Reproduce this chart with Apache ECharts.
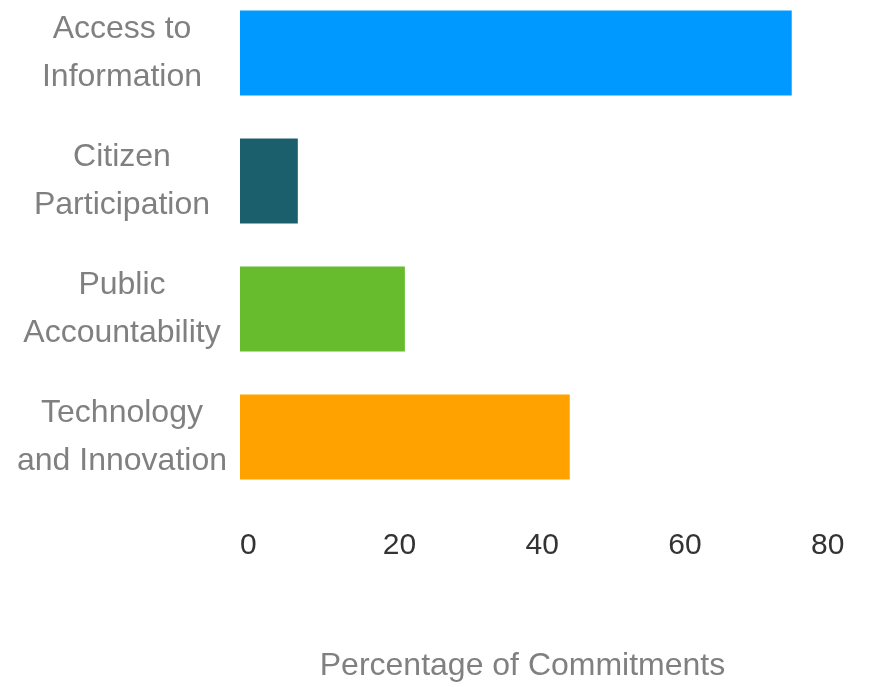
<!DOCTYPE html>
<html>
<head>
<meta charset="utf-8">
<script src="https://cdn.jsdelivr.net/npm/echarts@6/dist/echarts.min.js"></script>
<style>
html,body{margin:0;padding:0;background:#fff;overflow:hidden;}
#chart{position:relative;top:-11px;width:874px;height:698px;}
</style>
</head>
<body>
<div id="chart"></div>
<script>
var categories = ['Access to Information', 'Citizen Participation', 'Public Accountability', 'Technology and Innovation'];
var categoryLabels = ['Access to\nInformation', 'Citizen\nParticipation', 'Public\nAccountability', 'Technology\nand Innovation'];
var values = [77.3, 8.1, 23.1, 46.2];
var colors = ['#0099ff', '#1c5f6c', '#67bc2e', '#ffa200'];
var xTicks = [0, 20, 40, 60, 80];

var chart = echarts.init(document.getElementById('chart'));
chart.setOption({
  backgroundColor: '#ffffff',
  animation: false,
  grid: { left: 240, top: 0, width: 571, height: 517 },
  xAxis: {
    type: 'value',
    min: xTicks[0],
    max: xTicks[xTicks.length - 1],
    interval: 20,
    axisLine: { show: false },
    axisTick: { show: false },
    splitLine: { show: false },
    axisLabel: {
      align: 'left',
      margin: 30,
      fontSize: 30,
      fontFamily: 'Liberation Sans, Arial, sans-serif',
      color: '#333333'
    },
    name: 'Percentage of Commitments',
    nameLocation: 'middle',
    nameGap: 149,
    nameTextStyle: {
      fontSize: 32,
      padding: [0, 6, 0, 0],
      fontFamily: 'Liberation Sans, Arial, sans-serif',
      color: '#808080'
    }
  },
  yAxis: {
    type: 'category',
    inverse: true,
    data: categories,
    axisLine: { show: false },
    axisTick: { show: false },
    splitLine: { show: false },
    axisLabel: {
      margin: 118,
      align: 'center',
      fontSize: 32,
      lineHeight: 48,
      padding: [6, 0, 0, 0],
      fontFamily: 'Liberation Sans, Arial, sans-serif',
      color: '#808080',
      formatter: function (v) { return categoryLabels[categories.indexOf(v)]; }
    }
  },
  series: [{
    type: 'bar',
    barWidth: 85,
    data: values.map(function (v, i) {
      return { value: v, itemStyle: { color: colors[i] } };
    })
  }]
});
</script>
</body>
</html>
